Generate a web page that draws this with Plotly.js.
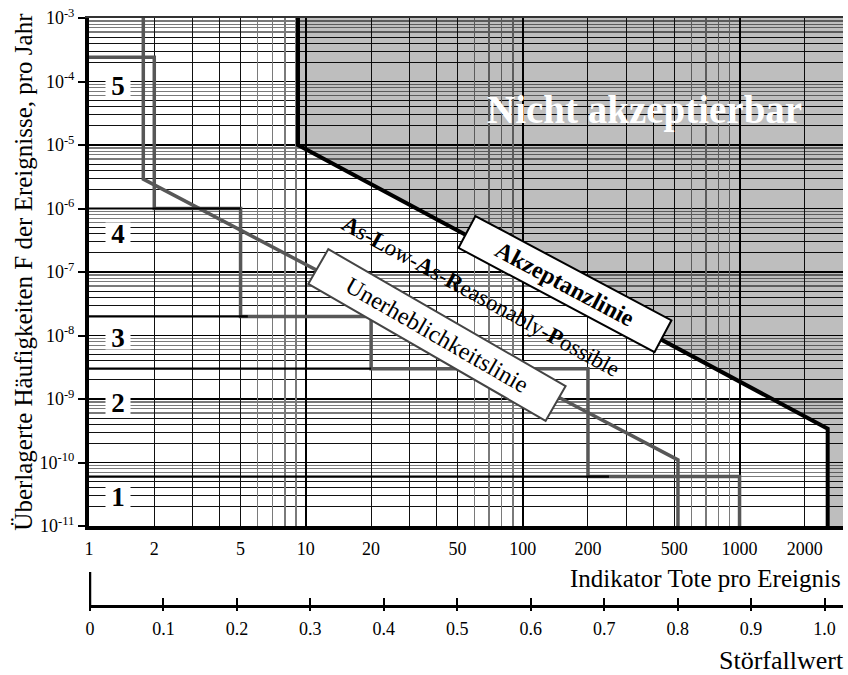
<!DOCTYPE html>
<html><head><meta charset="utf-8">
<script src="https://cdn.plot.ly/plotly-3.0.1.min.js"></script>
<style>html,body{margin:0;padding:0;background:#fff}#chart{width:848px;height:675px}</style>
</head><body><div id="chart"></div>
<script>
// ---------------- data ----------------
const xTickVals = [1, 2, 5, 10, 20, 50, 100, 200, 500, 1000, 2000];
const xTickText = ['1', '2', '5', '10', '20', '50', '100', '200', '500', '1000', '2000'];
const yTickVals = [1e-11, 1e-10, 1e-9, 1e-8, 1e-7, 1e-6, 1e-5, 1e-4, 1e-3];
const yTickText = ['10<sup>-11</sup>', '10<sup>-10</sup>', '10<sup>-9</sup>', '10<sup>-8</sup>', '10<sup>-7</sup>',
                   '10<sup>-6</sup>', '10<sup>-5</sup>', '10<sup>-4</sup>', '10<sup>-3</sup>'];
const sfTickVals = [0, 0.1, 0.2, 0.3, 0.4, 0.5, 0.6, 0.7, 0.8, 0.9, 1.0];
const sfTickText = ['0', '0.1', '0.2', '0.3', '0.4', '0.5', '0.6', '0.7', '0.8', '0.9', '1.0'];

const xMin = 1, xMax = 3000, yMin = 1e-11, yMax = 1e-3;

// Akzeptanzlinie (thick black)
const acceptX = [9.2, 9.2, 2550, 2550];
const acceptY = [1e-3, 1e-5, 3.4e-10, 1e-11];

// grey staircase
const stepX = [1, 2, 2, 5, 5, 20, 20, 200, 200, 1000, 1000];
const stepY = [2.4e-4, 2.4e-4, 1e-6, 1e-6, 2e-8, 2e-8, 3e-9, 3e-9, 6e-11, 6e-11, 1e-11];

// grey sloped line
const diagX = [1.78, 1.78, 520, 520];
const diagY = [1e-3, 2.9e-6, 1.1e-10, 1e-11];

// black class boundaries
const classLevels = [1e-6, 2e-8, 3e-9, 6e-11];
const classLevelEnds = [5, 5.4, 20, 250];

// class labels
const classLabels = ['5', '4', '3', '2', '1'];
const classLabelY = [8.5e-5, 4e-7, 9e-9, 8.7e-10, 2.9e-11];
const classLabelX = 1.36;

// grid line positions
const xMajorGrid = [10, 100, 1000];
const xMinorDark = [2, 3, 4, 5, 20, 30, 40, 50, 200, 300, 400, 500, 2000, 3000];
const xMinorGray = [6, 7, 8, 9, 60, 70, 80, 90, 600, 700, 800, 900];
const yDecades = [-11, -10, -9, -8, -7, -6, -5, -4];
const yMinorDark = [], yMinorGray = [];
yDecades.forEach(d => {
  [2, 3, 4, 5].forEach(m => yMinorDark.push(m * Math.pow(10, d)));
  [6, 7, 8, 9].forEach(m => yMinorGray.push(m * Math.pow(10, d)));
});

// ---------------- build ----------------
const FONT = 'Liberation Serif, Times New Roman, serif';
const bx = [], by = [];
classLevels.forEach((lv, i) => { bx.push(xMin, classLevelEnds[i], null); by.push(lv, lv, null); });

const dummy = (xa, ya) => ({x: [], y: [], xaxis: xa, yaxis: ya, type: 'scatter', mode: 'lines', showlegend: false, hoverinfo: 'skip'});

const traces = [
  dummy('x3', 'y'), dummy('x4', 'y'), dummy('x5', 'y'), dummy('x2', 'y'), dummy('x6', 'y'),
  dummy('x', 'y2'), dummy('x', 'y3'),
  {x: acceptX.concat([xMax, xMax]), y: acceptY.concat([yMin, yMax]), type: 'scatter', mode: 'lines',
   fill: 'toself', fillcolor: 'rgba(0,0,0,0.255)', line: {width: 0}, showlegend: false, hoverinfo: 'skip'},
  {x: stepX, y: stepY, type: 'scatter', mode: 'lines', line: {color: '#575757', width: 3.5}, showlegend: false},
  {x: diagX, y: diagY, type: 'scatter', mode: 'lines', line: {color: '#575757', width: 3.5}, showlegend: false},
  {x: bx, y: by, type: 'scatter', mode: 'lines', line: {color: '#000', width: 2.2}, connectgaps: false, showlegend: false},
  {x: acceptX, y: acceptY, type: 'scatter', mode: 'lines', line: {color: '#000', width: 4}, showlegend: false}
];

const logRange = [Math.log10(xMin), Math.log10(xMax)];
const sfRange = [-0.00136, 1.0251];
const gridAxis = (vals, color, width, extra) => Object.assign({
  overlaying: 'x', type: 'log', range: logRange, anchor: 'y', tickmode: 'array', tickvals: vals,
  showgrid: true, gridcolor: color, gridwidth: width, showticklabels: false, ticks: '', showline: false, zeroline: false
}, extra || {});
const gridYAxis = (vals, color, width) => ({
  overlaying: 'y', type: 'log', range: [-11, -3], anchor: 'x', tickmode: 'array', tickvals: vals,
  showgrid: true, gridcolor: color, gridwidth: width, showticklabels: false, ticks: '', showline: false, zeroline: false
});

const annotations = [
  {xref: 'paper', yref: 'paper', x: 0.737, y: 0.8435, xanchor: 'center', yanchor: 'middle',
   text: '<b>Nicht akzeptierbar</b>', showarrow: false,
   font: {family: FONT, size: 39, color: '#fff'}},
  {xref: 'paper', yref: 'paper', x: 0.631, y: 0.5476, xanchor: 'center', yanchor: 'middle',
   text: '<b>Akzeptanzlinie</b>', showarrow: false,
   textangle: 28, bgcolor: '#fff', bordercolor: '#000', borderwidth: 2, borderpad: 0, width: 220, height: 34,
   font: {family: FONT, size: 24, color: '#000'}},
  {xref: 'paper', yref: 'paper', x: 0.52, y: 0.527, xanchor: 'center', yanchor: 'middle',
   text: '<b>A</b>s-<b>L</b>ow-<b>A</b>s-<b>R</b>easonably-<b>P</b>ossible', showarrow: false,
   textangle: 28.5, font: {family: FONT, size: 23, color: '#000'}},
  {xref: 'paper', yref: 'paper', x: 0.4615, y: 0.461, xanchor: 'center', yanchor: 'middle',
   text: 'Unerheblichkeitslinie', showarrow: false,
   textangle: 30, bgcolor: '#fff', bordercolor: '#444', borderwidth: 2, borderpad: 0, width: 272, height: 38,
   font: {family: FONT, size: 24, color: '#000'}},
  {xref: 'paper', yref: 'paper', x: 1, xanchor: 'right', y: 0.0476, yanchor: 'middle',
   text: 'Indikator Tote pro Ereignis', showarrow: false, font: {family: FONT, size: 25, color: '#000'}},
  {xref: 'paper', yref: 'paper', x: 1.004, xanchor: 'right', y: -0.0935, yanchor: 'middle',
   text: 'Störfallwert', showarrow: false, font: {family: FONT, size: 26, color: '#000'}},
  {xref: 'paper', yref: 'paper', x: -0.088, y: 0.568, xanchor: 'center', yanchor: 'middle', textangle: -90,
   text: 'Überlagerte Häufigkeiten F der Ereignisse, pro Jahr', showarrow: false,
   font: {family: FONT, size: 25, color: '#000'}}
];
classLabels.forEach((t, i) => annotations.push({
  xref: 'x', yref: 'y', x: Math.log10(classLabelX), y: Math.log10(classLabelY[i]), text: '<b>' + t + '</b>',
  xanchor: 'center', yanchor: 'middle',
  showarrow: false, bgcolor: '#fff', borderpad: 0, width: 24, height: 22,
  font: {family: FONT, size: 27, color: '#000'}
}));

const layout = {
  width: 848, height: 675,
  margin: {l: 89, r: 5, t: 18, b: 69},
  paper_bgcolor: '#fff', plot_bgcolor: 'rgba(0,0,0,0)',
  showlegend: false,
  font: {family: FONT, color: '#000'},
  xaxis: {type: 'log', range: logRange, domain: [0, 1], anchor: 'y', tickmode: 'array', tickvals: xTickVals,
          ticktext: xTickText, showgrid: false, showline: true, linewidth: 4, linecolor: '#000', ticks: '',
          zeroline: false, tickfont: {family: FONT, size: 18, color: '#000'}, ticklabelstandoff: 3},
  xaxis3: gridAxis(xMajorGrid, '#000', 2),
  xaxis4: gridAxis(xMinorDark, '#111', 1, {side: 'top', showline: true, linewidth: 2, linecolor: '#333'}),
  xaxis5: gridAxis(xMinorGray, '#7a7a7a', 1.5),
  xaxis2: {overlaying: 'x', anchor: 'free', position: 0, range: sfRange, tickmode: 'array', tickvals: sfTickVals,
           ticktext: sfTickText, ticks: 'inside', ticklen: 7, tickwidth: 2, tickcolor: '#000', showgrid: false,
           showline: true, linewidth: 2.5, linecolor: '#000', zeroline: false,
           tickfont: {family: FONT, size: 18, color: '#000'}, ticklabelstandoff: 6},
  xaxis6: {overlaying: 'x', anchor: 'free', position: 0, range: sfRange, tickmode: 'array', tickvals: sfTickVals,
           ticks: 'outside', ticklen: 4, tickwidth: 2, tickcolor: '#000', showgrid: false, showline: false,
           showticklabels: false, zeroline: false},
  yaxis: {type: 'log', range: [-11, -3], domain: [80 / 588, 1], anchor: 'x', tickmode: 'array', tickvals: yTickVals,
          ticktext: yTickText, showgrid: true, gridcolor: '#000', gridwidth: 1.5, ticks: 'outside', ticklen: 7,
          tickwidth: 2, tickcolor: '#000', showline: true, linewidth: 4, linecolor: '#000', zeroline: false,
          tickfont: {family: FONT, size: 18, color: '#000'}},
  yaxis2: gridYAxis(yMinorDark, '#111', 1),
  yaxis3: gridYAxis(yMinorGray, '#7a7a7a', 1.2),
  shapes: [
    {type: 'line', xref: 'x2', yref: 'paper', x0: 0, x1: 0, y0: 0, y1: 34 / 588, line: {color: '#000', width: 2.5}}
  ],
  annotations: annotations
};

Plotly.newPlot('chart', traces, layout, {staticPlot: true, displayModeBar: false});
</script>
</body></html>
